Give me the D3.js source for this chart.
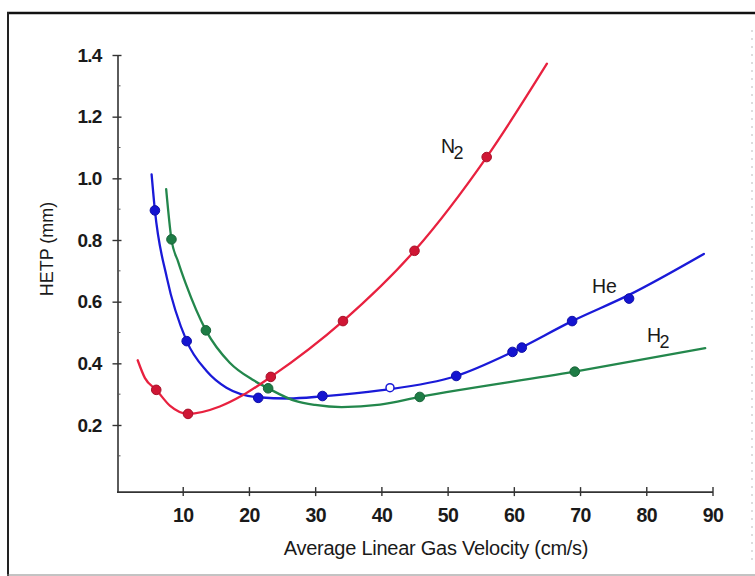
<!DOCTYPE html>
<html>
<head>
<meta charset="utf-8">
<script src="https://cdn.jsdelivr.net/npm/d3@7"></script>
<style>
  html, body { margin: 0; padding: 0; background: #fff; }
  svg { display: block; font-family: "Liberation Sans", Arial, Helvetica, sans-serif; }
</style>
</head>
<body>
<svg id="chart" width="755" height="576"></svg>
<script>
// Axis ticks
const xTicks = [10, 20, 30, 40, 50, 60, 70, 80, 90];
const yTicks = [0.2, 0.4, 0.6, 0.8, 1.0, 1.2, 1.4];
const yMinorTicks = [0.1, 0.3, 0.5, 0.7, 0.9, 1.1, 1.3];

// Fitted HETP curves: [velocity cm/s, HETP mm]
const n2Curve = [[3.2, 0.41], [4.3, 0.352], [6.0, 0.314], [8.1, 0.262], [10.8, 0.236],
  [15.6, 0.26], [19.1, 0.297], [23.3, 0.356], [34.2, 0.537],
  [45.0, 0.765], [55.9, 1.069], [65.0, 1.372]];
const heCurve = [[5.3, 1.013], [5.8, 0.896], [7.6, 0.678], [10.6, 0.472], [13.6, 0.375],
  [16.6, 0.321], [21.4, 0.29], [26.0, 0.286], [31.1, 0.293], [39.8, 0.312],
  [51.3, 0.359], [59.8, 0.437], [68.8, 0.537], [77.4, 0.622], [88.7, 0.755]];
const h2Curve = [[7.5, 0.965], [8.3, 0.802], [9.3, 0.73], [10.5, 0.656], [13.5, 0.507],
  [17.1, 0.402], [20.7, 0.345], [22.9, 0.319], [27.0, 0.278], [30.0, 0.265],
  [34.0, 0.258], [39.8, 0.266], [45.8, 0.291], [69.2, 0.373], [88.9, 0.449]];

// Measured points
const n2Points = [[6.0, 0.314], [10.8, 0.236], [23.3, 0.356], [34.2, 0.537], [45.0, 0.765], [55.9, 1.069]];
const hePoints = [[5.8, 0.896], [10.6, 0.472], [21.4, 0.288], [31.1, 0.294], [51.3, 0.359],
  [59.8, 0.437], [61.2, 0.451], [68.8, 0.537], [77.4, 0.61]];
const heOpenPoints = [[41.3, 0.321]];
const h2Points = [[8.3, 0.802], [13.5, 0.507], [22.9, 0.319], [45.8, 0.291], [69.2, 0.373]];

const colors = { n2: "#e8213f", he: "#1a1ad8", h2: "#23874c" };
const markerColors = { n2: "#cf1634", he: "#1414d0", h2: "#1e7c45" };

const svg = d3.select("#chart");

// Page frame
svg.append("line").attr("x1", 7).attr("x2", 755).attr("y1", 13).attr("y2", 13)
  .attr("stroke", "#111").attr("stroke-width", 2.5);
svg.append("line").attr("x1", 8).attr("x2", 8).attr("y1", 12).attr("y2", 576)
  .attr("stroke", "#222").attr("stroke-width", 2);
svg.append("line").attr("x1", 7).attr("x2", 755).attr("y1", 575).attr("y2", 575)
  .attr("stroke", "#888").attr("stroke-width", 1.2);
svg.append("line").attr("x1", 752).attr("x2", 752).attr("y1", 30).attr("y2", 560)
  .attr("stroke", "#bbb").attr("stroke-width", 1).attr("stroke-dasharray", "2,6");

const x = d3.scaleLinear().domain([0, 90]).range([116.5, 712.5]);
const y = d3.scaleLinear().domain([-0.016, 1.4]).range([491.6, 55]);

// X axis
const xAxis = svg.append("g").attr("transform", `translate(0,${y(-0.016)})`)
  .call(d3.axisBottom(x).tickValues(xTicks).tickSize(0).tickPadding(17));
xAxis.select(".domain").attr("stroke", "#333").attr("stroke-width", 1.6);
xAxis.selectAll(".tick line").remove();
xAxis.selectAll(".tick").append("line").attr("y1", -4.5).attr("y2", 4.5)
  .attr("stroke", "#333").attr("stroke-width", 1.4);
xAxis.selectAll(".tick text").attr("font-size", 19.5).attr("font-weight", "bold")
  .attr("letter-spacing", -0.6)
  .attr("fill", "#1a1a1a").attr("font-family", "Liberation Sans, Arial, sans-serif");

// Y axis
const yAxis = svg.append("g").attr("transform", `translate(${x(0) + 1},0)`)
  .call(d3.axisLeft(y).tickValues(yTicks).tickFormat(d3.format(".1f")).tickSize(0).tickPadding(16));
yAxis.select(".domain").attr("stroke", "#333").attr("stroke-width", 1.6);
yAxis.selectAll(".tick line").remove();
yAxis.selectAll(".tick").append("line").attr("x1", -5).attr("x2", 4)
  .attr("stroke", "#333").attr("stroke-width", 1.4);
yAxis.selectAll(".tick text").attr("font-size", 19).attr("font-weight", "bold")
  .attr("letter-spacing", -0.8)
  .attr("fill", "#1a1a1a").attr("font-family", "Liberation Sans, Arial, sans-serif");
yAxis.selectAll(".minor").data(yMinorTicks).enter().append("line")
  .attr("class", "minor").attr("x1", 0).attr("x2", 3)
  .attr("y1", d => y(d)).attr("y2", d => y(d))
  .attr("stroke", "#555").attr("stroke-width", 1);

// Axis titles
svg.append("text").attr("x", 436).attr("y", 555).attr("text-anchor", "middle")
  .attr("font-size", 20).attr("letter-spacing", -0.25).attr("fill", "#1a1a1a")
  .text("Average Linear Gas Velocity (cm/s)");
svg.append("text").attr("transform", "translate(53,249) rotate(-90)")
  .attr("text-anchor", "middle").attr("font-size", 18).attr("fill", "#1a1a1a")
  .text("HETP (mm)");

// Curves
const line = d3.line().x(d => x(d[0])).y(d => y(d[1])).curve(d3.curveMonotoneX);
const series = [
  { key: "he", curve: heCurve, pts: hePoints },
  { key: "h2", curve: h2Curve, pts: h2Points },
  { key: "n2", curve: n2Curve, pts: n2Points }
];
series.forEach(s => {
  svg.append("path").datum(s.curve).attr("d", line).attr("fill", "none")
    .attr("stroke", colors[s.key]).attr("stroke-width", 2.3)
    .attr("stroke-linecap", "round");
});
series.forEach(s => {
  svg.append("g").selectAll("circle").data(s.pts).enter().append("circle")
    .attr("cx", d => x(d[0])).attr("cy", d => y(d[1])).attr("r", 4.8)
    .attr("fill", markerColors[s.key]).attr("stroke", d3.color(markerColors[s.key]).darker(0.6))
    .attr("stroke-width", 1);
});
svg.append("g").selectAll("circle").data(heOpenPoints).enter().append("circle")
  .attr("cx", d => x(d[0])).attr("cy", d => y(d[1])).attr("r", 4)
  .attr("fill", "#fff").attr("stroke", colors.he).attr("stroke-width", 1.5);

// Series labels with subscripts
function gasLabel(px, py, main, sub) {
  const t = svg.append("text").attr("x", px).attr("y", py).attr("font-size", 19.5).attr("fill", "#1a1a1a");
  t.append("tspan").text(main);
  if (sub) t.append("tspan").attr("dx", -1.5).attr("dy", 6).attr("font-size", 18).text(sub);
}
gasLabel(441, 153, "N", "2");
gasLabel(592, 293, "He", null);
gasLabel(647, 342, "H", "2");
</script>
</body>
</html>
